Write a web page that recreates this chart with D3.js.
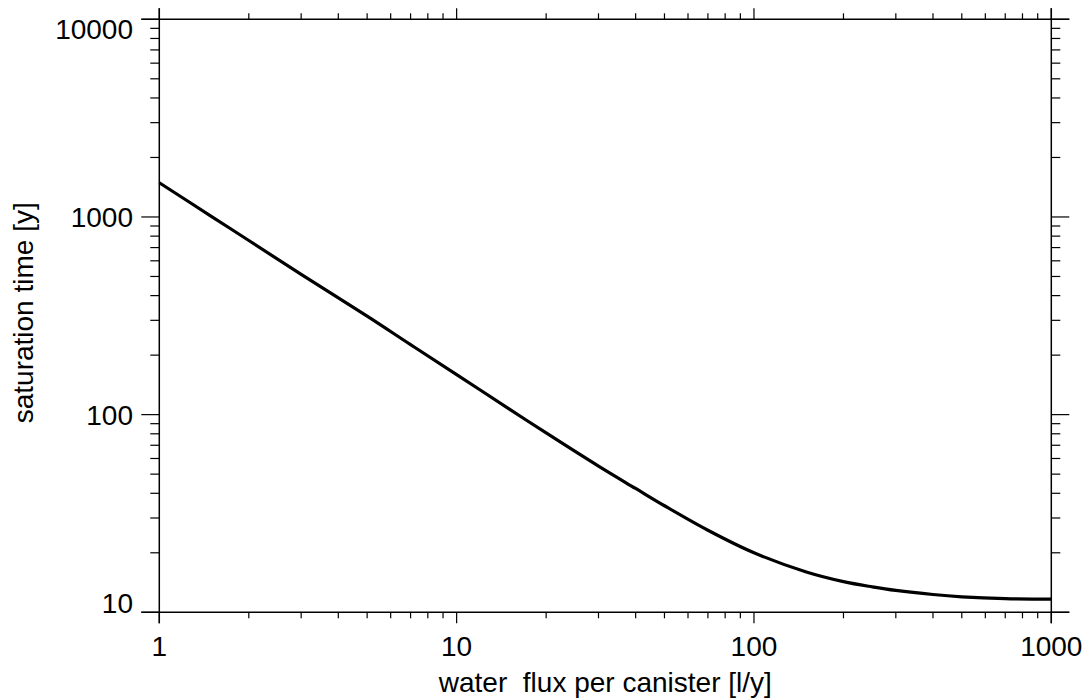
<!DOCTYPE html>
<html>
<head>
<meta charset="utf-8">
<script src="https://cdn.jsdelivr.net/npm/d3@7"></script>
<style>
  html, body { margin: 0; padding: 0; background: #fff; }
  svg { display: block; font-family: "Liberation Sans", Arial, sans-serif; }
</style>
</head>
<body>
<svg id="chart" width="1091" height="700"></svg>
<script>
// ---- data ----
const fluxValues = [1, 1.5, 2, 3, 5, 7, 10, 15, 20, 30, 40, 50, 70, 100, 150, 200, 250, 300, 400, 500, 700, 1000];
const saturationTimes = [1490, 1005, 760, 512, 315, 226, 159.4, 107, 80.8, 54.9, 42.3, 34.6, 26.0, 20.0, 16.0, 14.3, 13.45, 12.9, 12.3, 11.98, 11.72, 11.66];
const xTickValues = [1, 10, 100, 1000];
const xTickLabels = ["1", "10", "100", "1000"];
const yTickValues = [10, 100, 1000, 10000];
const yTickLabels = ["10", "100", "1000", "10000"];
const xTitle = "water\u00a0\u00a0flux per canister [l/y]";
const yTitle = "saturation time [y]";

// ---- layout ----
const L = 159.3, R = 1051.3, T = 19.3, B = 612.3;
const svg = d3.select("#chart");
const x = d3.scaleLog().domain([1, 1000]).range([L, R]);
const y = d3.scaleLog().domain([10, 10000]).range([B, T]);

function minorTicks(lo, hi) {
  const out = [];
  for (let d = lo; d < hi; d *= 10) for (let k = 2; k <= 9; k++) out.push(d * k);
  return out;
}
const xMinor = minorTicks(1, 1000);
const yMinor = minorTicks(10, 10000);

const g = svg.append("g");

// frame lines (extended past corners like the original)
g.append("line").attr("x1", L - 18).attr("x2", R + 18).attr("y1", B).attr("y2", B).attr("stroke", "#000").attr("stroke-width", 1.5);
g.append("line").attr("x1", L - 18).attr("x2", R + 18).attr("y1", T).attr("y2", T).attr("stroke", "#000").attr("stroke-width", 1.5);
g.append("line").attr("x1", L).attr("x2", L).attr("y1", T - 11).attr("y2", B + 11).attr("stroke", "#000").attr("stroke-width", 1.5);
g.append("line").attr("x1", R).attr("x2", R).attr("y1", T - 11).attr("y2", B + 11).attr("stroke", "#000").attr("stroke-width", 1.5);

// bottom / top ticks
function xTicks(vals, len) {
  g.selectAll(null).data(vals).enter().append("line")
    .attr("x1", d => x(d)).attr("x2", d => x(d)).attr("y1", B).attr("y2", B + len)
    .attr("stroke", "#000").attr("stroke-width", 1.2);
  g.selectAll(null).data(vals).enter().append("line")
    .attr("x1", d => x(d)).attr("x2", d => x(d)).attr("y1", T).attr("y2", T - len)
    .attr("stroke", "#000").attr("stroke-width", 1.2);
}
xTicks(xTickValues, 11);
xTicks(xMinor, 6);

function yTicks(vals, len) {
  g.selectAll(null).data(vals).enter().append("line")
    .attr("y1", d => y(d)).attr("y2", d => y(d)).attr("x1", L).attr("x2", L - len)
    .attr("stroke", "#000").attr("stroke-width", 1.2);
  g.selectAll(null).data(vals).enter().append("line")
    .attr("y1", d => y(d)).attr("y2", d => y(d)).attr("x1", R).attr("x2", R + len)
    .attr("stroke", "#000").attr("stroke-width", 1.2);
}
yTicks(yTickValues, 18);
yTicks(yMinor, 9);

// tick labels
g.selectAll(null).data(xTickValues).enter().append("text")
  .attr("x", d => x(d)).attr("y", 656)
  .attr("text-anchor", "middle").attr("font-size", 28).attr("fill", "#000")
  .text((d, i) => xTickLabels[i]);

g.selectAll(null).data(yTickValues).enter().append("text")
  .attr("x", 133)
  .attr("y", d => Math.min(B + 0.7, Math.max(T + 20, y(d) + 10)))
  .attr("text-anchor", "end").attr("font-size", 28).attr("fill", "#000")
  .text((d, i) => yTickLabels[i]);

// axis titles
svg.append("text").attr("x", (L + R) / 2).attr("y", 692)
  .attr("text-anchor", "middle").attr("font-size", 28).attr("fill", "#000")
  .text(xTitle);
svg.append("text").attr("transform", `translate(33,${(T + B) / 2 - 3}) rotate(-90)`)
  .attr("text-anchor", "middle").attr("font-size", 28).attr("fill", "#000")
  .text(yTitle);

// curve
const line = d3.line().x(d => x(d[0])).y(d => y(d[1])).curve(d3.curveCatmullRom.alpha(0.5));
svg.append("path")
  .datum(fluxValues.map((f, i) => [f, saturationTimes[i]]))
  .attr("d", line).attr("fill", "none").attr("stroke", "#000").attr("stroke-width", 3.2)
  .attr("stroke-linejoin", "round");
</script>
</body>
</html>
